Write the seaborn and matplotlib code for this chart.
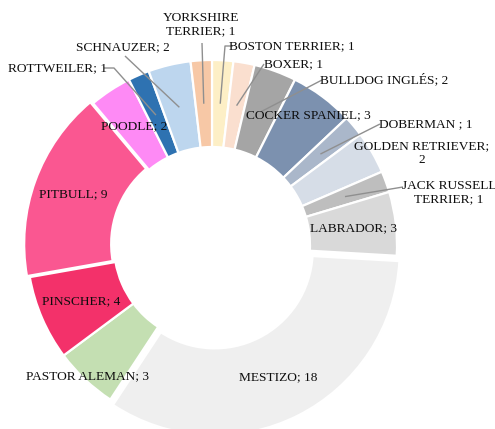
import numpy as np
import matplotlib
matplotlib.use("Agg")
import matplotlib.pyplot as plt
import seaborn as sns

# Dog breeds (clockwise from 12 o'clock) and their counts
breeds = ["BOSTON TERRIER", "BOXER", "BULLDOG INGLÉS", "COCKER SPANIEL",
          "DOBERMAN ", "GOLDEN RETRIEVER", "JACK RUSSELL TERRIER", "LABRADOR",
          "MESTIZO", "PASTOR ALEMAN", "PINSCHER", "PITBULL", "POODLE",
          "ROTTWEILER", "SCHNAUZER", "YORKSHIRE TERRIER"]
counts = [1, 1, 2, 3, 1, 2, 1, 3, 18, 3, 4, 9, 2, 1, 2, 1]

# Label text as displayed (some wrap onto two lines)
label_text = ["BOSTON TERRIER; 1", "BOXER; 1", "BULLDOG INGLÉS; 2",
              "COCKER SPANIEL; 3", "DOBERMAN ; 1", "GOLDEN RETRIEVER;\n2",
              "JACK RUSSELL\nTERRIER; 1", "LABRADOR; 3", "MESTIZO; 18",
              "PASTOR ALEMAN; 3", "PINSCHER; 4", "PITBULL; 9", "POODLE; 2",
              "ROTTWEILER; 1", "SCHNAUZER; 2", "YORKSHIRE\nTERRIER; 1"]

slice_colors = ["#FDEFC6", "#FADFCF", "#A5A5A5", "#7C91AF", "#AAB7CA",
                "#D6DDE7", "#BEBEBE", "#D9D9D9", "#EFEFEF", "#C4DFB2",
                "#F3316A", "#FA5791", "#FE8AF5", "#2E72B1", "#BDD6EE",
                "#F7C8A6"]

W, H = 495, 429
sns.set_theme(style="white")
plt.rcParams["font.family"] = ["Liberation Serif", "DejaVu Serif"]

fig = plt.figure(figsize=(W / 100, H / 100), dpi=100)
ax = fig.add_axes([0, 0, 1, 1])

cx, cy = 212, H - 245          # donut centre in pixel-like data units
r_out, r_in = 185, 98
explode = [0] * len(breeds)
explode[breeds.index("MESTIZO")] = 6
explode[breeds.index("PITBULL")] = 3

wedges, _ = ax.pie(counts, colors=sns.color_palette(slice_colors),
                   startangle=90, counterclock=False, center=(cx, cy),
                   radius=r_out, explode=explode, frame=True,
                   wedgeprops=dict(width=r_out - r_in, edgecolor="white",
                                   linewidth=1.6))

ax.set_xlim(0, W)
ax.set_ylim(0, H)
ax.set_aspect("equal")
ax.axis("off")

txt_kw = dict(fontsize=9.6, color="#0d0d0d", ha="center", va="center",
              linespacing=1.15)


def mid_point(w, r):
    ang = np.deg2rad((w.theta1 + w.theta2) / 2)
    x0, y0 = w.center
    return x0 + r * np.cos(ang), y0 + r * np.sin(ang)


# Labels drawn inside their slices: radial distance from the centre
inside = {"COCKER SPANIEL": 162, "LABRADOR": 142, "MESTIZO": 142,
          "PASTOR ALEMAN": 181, "PINSCHER": 142, "PITBULL": 145,
          "POODLE": 142}

# Labels drawn outside with leader lines: text centre and leader start
# (pixel coordinates measured from the top-left corner)
outside = {
    "YORKSHIRE TERRIER": ((201, 25), [(202, 43)]),
    "BOSTON TERRIER": ((292, 46), [(233, 46), (225, 46)]),
    "BOXER": ((294, 64), [(264, 64)]),
    "BULLDOG INGLÉS": ((384, 80), [(322, 80)]),
    "DOBERMAN ": ((426, 124), [(380, 124)]),
    "GOLDEN RETRIEVER": ((422, 153), None),
    "JACK RUSSELL TERRIER": ((449, 193), [(403, 187)]),
    "ROTTWEILER": ((57, 68), [(104, 68), (114, 68)]),
    "SCHNAUZER": ((123, 47), [(125, 56)]),
}

for w, name, lab in zip(wedges, breeds, label_text):
    if name in inside:
        x, y = mid_point(w, inside[name])
        ax.text(x, y, lab, **txt_kw)
    else:
        (tx, ty), lead = outside[name]
        ax.text(tx, H - ty, lab, **txt_kw)
        if lead:
            ex, ey = mid_point(w, (r_out + r_in) / 2)
            xs = [p[0] for p in lead] + [ex]
            ys = [H - p[1] for p in lead] + [ey]
            ax.plot(xs, ys, color="#8f8f8f", lw=1.0, solid_capstyle="butt")

fig.savefig("out.png", dpi=100, facecolor="white")
